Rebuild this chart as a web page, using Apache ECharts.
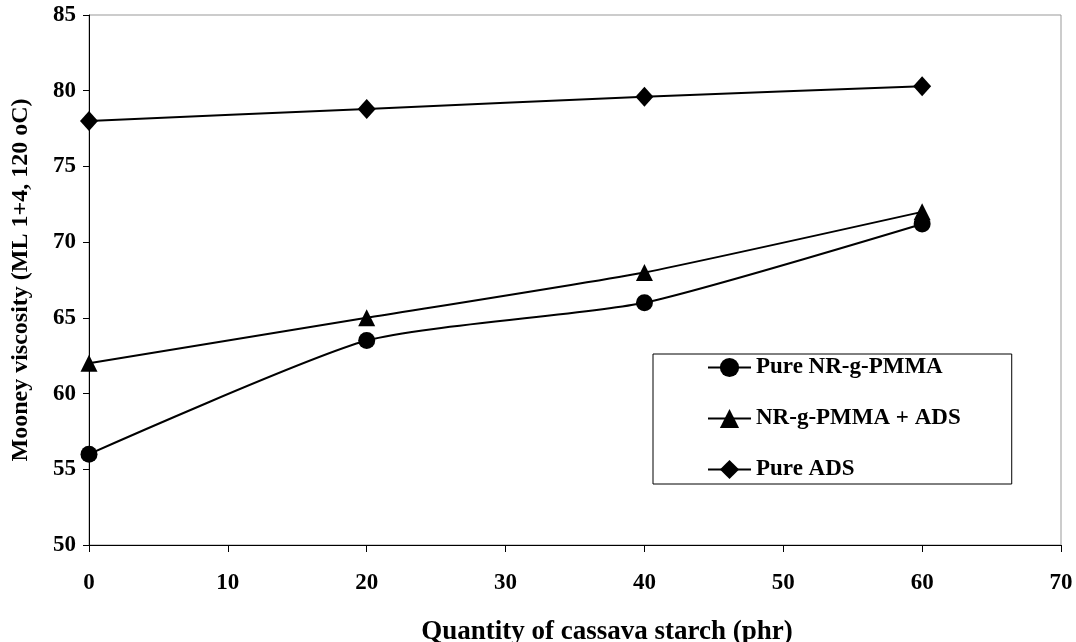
<!DOCTYPE html>
<html>
<head>
<meta charset="utf-8">
<script src="https://cdn.jsdelivr.net/npm/echarts@6/dist/echarts.min.js"></script>
<style>html,body{margin:0;padding:0;background:#fff}#c{width:1076px;height:642px}</style>
</head>
<body>
<div id="c"></div>
<script>
var xValues = [0, 20, 40, 60];
var pureNR = [56, 63.5, 66, 71.2];
var nrAds = [62, 65, 68, 72];
var pureADS = [78, 78.8, 79.6, 80.3];
var seriesNames = ['Pure NR-g-PMMA', 'NR-g-PMMA + ADS', 'Pure ADS'];
var xTitle = 'Quantity of cassava starch (phr)';
var yTitle = 'Mooney viscosity (ML 1+4, 120 oC)';

function pairs(ys) { return xValues.map(function (x, i) { return [x, ys[i]]; }); }
var font = 'Liberation Serif';
var chart = echarts.init(document.getElementById('c'));
var lineStyle = { color: '#000', width: 2 };
chart.setOption({
  animation: false,
  backgroundColor: '#fff',
  grid: { left: 89, right: 15, top: 15, bottom: 97, show: true, borderColor: '#999', borderWidth: 1,
          containLabel: false, outerBoundsMode: 'none' },
  xAxis: {
    type: 'value', min: 0, max: 70, interval: 10,
    name: xTitle, nameLocation: 'middle', nameGap: 74,
    nameTextStyle: { fontFamily: font, fontWeight: 'bold', fontSize: 27, color: '#000', padding: [0, 0, 0, 64] },
    axisLine: { show: true, lineStyle: { color: '#000', width: 1 } },
    axisTick: { show: true, inside: false, length: 7, lineStyle: { color: '#000' } },
    axisLabel: { fontFamily: font, fontWeight: 'bold', fontSize: 23, color: '#000', margin: 27 },
    splitLine: { show: false }
  },
  yAxis: {
    type: 'value', min: 50, max: 85, interval: 5,
    name: yTitle, nameLocation: 'middle', nameGap: 56, nameRotate: 90,
    nameTextStyle: { fontFamily: font, fontWeight: 'bold', fontSize: 24, color: '#000' },
    axisLine: { show: true, lineStyle: { color: '#000', width: 1 } },
    axisTick: { show: true, length: 6, lineStyle: { color: '#000' } },
    axisLabel: { fontFamily: font, fontWeight: 'bold', fontSize: 23, color: '#000', margin: 13 },
    splitLine: { show: false }
  },
  legend: {
    orient: 'vertical', left: 653, top: 354,
    padding: [2, 51, 3, 54],
    itemWidth: 43, itemHeight: 24, itemGap: 28,
    borderColor: '#000', borderWidth: 1,
    textStyle: { fontFamily: font, fontWeight: 'bold', fontSize: 23, color: '#000' },
    data: seriesNames
  },
  series: [
    { name: seriesNames[0], type: 'line', data: pairs(pureNR), smooth: 0.2, symbol: 'circle', symbolSize: 17,
      itemStyle: { color: '#000' }, lineStyle: lineStyle },
    { name: seriesNames[1], type: 'line', data: pairs(nrAds), smooth: 0.15, symbol: 'triangle', symbolSize: 17,
      itemStyle: { color: '#000' }, lineStyle: lineStyle },
    { name: seriesNames[2], type: 'line', data: pairs(pureADS), smooth: 0.15, symbol: 'diamond', symbolSize: [18, 20],
      itemStyle: { color: '#000' }, lineStyle: lineStyle }
  ]
});
</script>
</body>
</html>
